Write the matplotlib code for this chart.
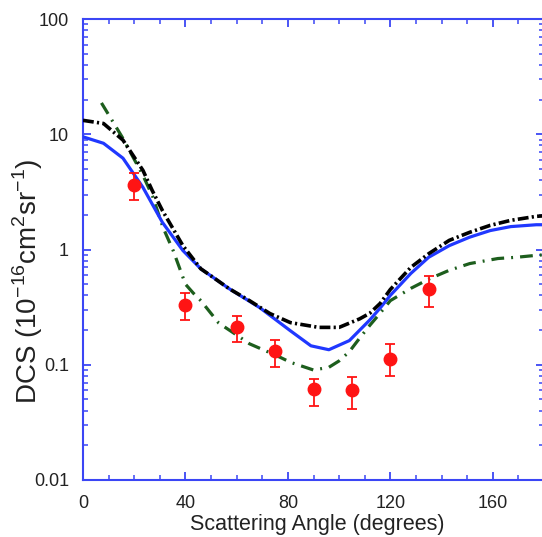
import numpy as np
import matplotlib
matplotlib.use("Agg")
import matplotlib.pyplot as plt
from matplotlib.ticker import FixedLocator, NullFormatter, LogLocator

plt.rcParams['font.family'] = ['Liberation Sans', 'DejaVu Sans']
plt.rcParams['mathtext.fontset'] = 'custom'
plt.rcParams['mathtext.rm'] = 'Liberation Sans'

# measured points (angle, DCS, error bar limits)
exp_ang = [20, 40, 60, 75, 90, 105, 120, 135]
exp_dcs = [3.6, 0.333, 0.214, 0.132, 0.061, 0.060, 0.113, 0.458]
exp_top = [4.6, 0.42, 0.267, 0.165, 0.0755, 0.078, 0.152, 0.594]
exp_bot = [2.7, 0.246, 0.159, 0.096, 0.044, 0.041, 0.080, 0.319]

# theory curves
blue_ang = [0, 8, 15.6, 23.4, 31, 39, 46, 50, 57, 69, 81, 89, 96, 104, 112, 116, 120,
            128, 135, 143, 151, 159, 167, 177, 180]
blue_dcs = [9.5, 8.35, 6.2, 3.46, 1.72, 0.98, 0.68, 0.59, 0.458, 0.313, 0.197, 0.146, 0.135,
            0.162, 0.245, 0.31, 0.40, 0.62, 0.857, 1.08, 1.28, 1.46, 1.58, 1.64, 1.64]

black_ang = [0, 8, 15.6, 23.4, 27, 31, 39, 46, 50, 57, 65, 73, 81, 92, 100, 108, 112, 116,
             120, 128, 135, 143, 151, 159, 167, 177, 180]
black_dcs = [13.2, 12.4, 8.9, 4.86, 3.26, 2.18, 1.08, 0.68, 0.59, 0.458, 0.36, 0.278, 0.232,
             0.211, 0.211, 0.25, 0.28, 0.34, 0.45, 0.70, 0.92, 1.2, 1.41, 1.62, 1.79, 1.94, 1.96]

green_ang = [7.2, 11.7, 15.6, 19.5, 23.4, 27.3, 31.2, 35.2, 40, 43, 46, 53, 61, 65, 72, 77,
             81, 90, 96, 100, 104, 108, 112, 116, 120, 128, 135.5, 143, 151, 162, 169.5, 177, 180]
green_dcs = [18.7, 12.8, 9.2, 6.35, 4.4, 2.85, 1.56, 0.98, 0.5, 0.42, 0.36, 0.23, 0.175, 0.152,
             0.13, 0.116, 0.105, 0.090, 0.095, 0.108, 0.13, 0.17, 0.22, 0.28, 0.36, 0.46, 0.56,
             0.66, 0.755, 0.835, 0.857, 0.89, 0.9]

spine_blue = "#3b46f5"
txt = "#222222"

fig = plt.figure(figsize=(5.42, 5.37), dpi=100)
ax = fig.add_axes([83/542, 57/537, 461/542, 461/537])

ax.plot(blue_ang, blue_dcs, color="#2038ff", lw=2.3, zorder=3)
ax.plot(black_ang, black_dcs, color="black", lw=2.6, dashes=[3.0, 0.9, 0.6, 0.9], zorder=4)
ax.plot(green_ang, green_dcs, color="#1d5e1d", lw=2.3, dashes=[4.0, 2.2, 0.6, 2.2], zorder=2)

exp_dcs_a = np.array(exp_dcs)
yerr = [exp_dcs_a - np.array(exp_bot), np.array(exp_top) - exp_dcs_a]
ax.errorbar(exp_ang, exp_dcs, yerr=yerr, fmt="o", color="#ff1414", ms=9, elinewidth=1.3,
            capsize=3.5, capthick=1.3, zorder=5)

ax.set_yscale("log")
ax.set_xlim(0, 180)
ax.set_ylim(0.01, 100)

ax.set_xticks([0, 40, 80, 120, 160])
ax.xaxis.set_minor_locator(FixedLocator(np.arange(0, 181, 10)))
ax.yaxis.set_major_locator(FixedLocator([0.01, 0.1, 1, 10, 100]))
ax.yaxis.set_minor_locator(LogLocator(base=10, subs=np.arange(2, 10), numticks=20))
ax.yaxis.set_minor_formatter(NullFormatter())
ax.set_yticklabels(["0.01", "0.1", "1", "10", "100"])

ax.tick_params(which="both", direction="in", top=True, right=True, color=spine_blue,
               labelsize=13, labelcolor=txt)
ax.tick_params(which="major", length=6, width=1.3)
ax.tick_params(axis="x", which="major", pad=11)
ax.tick_params(axis="y", which="major", pad=10)
ax.tick_params(which="minor", length=3.5, width=1.1)
for s in ax.spines.values():
    s.set_color(spine_blue)
    s.set_linewidth(1.5)

ax.set_xlabel("Scattering Angle (degrees)", fontsize=15.5, color=txt)
ax.xaxis.set_label_coords(0.509, -0.073)
ax.set_ylabel(r"DCS (10$^{-16}$cm$^2$sr$^{-1}$)", fontsize=20, color=txt)
ax.yaxis.set_label_coords(-0.082, 0.43)

fig.savefig("out.png", dpi=100)
